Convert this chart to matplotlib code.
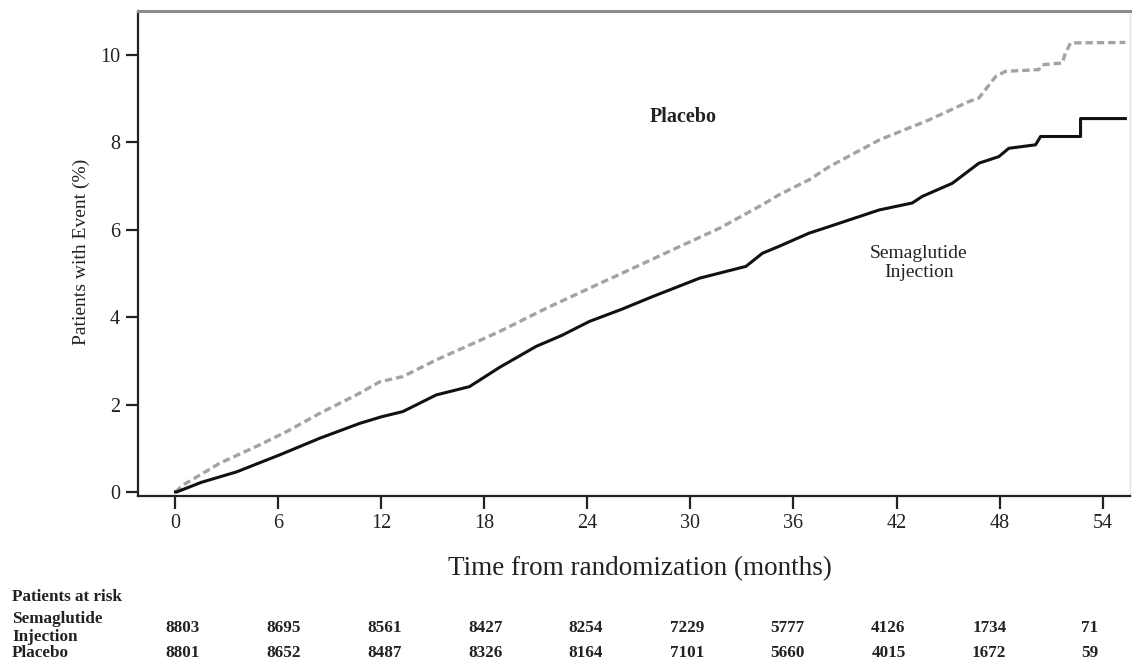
import numpy as np
import matplotlib
matplotlib.use("Agg")
import matplotlib.pyplot as plt

plt.rcParams['font.family'] = ['Liberation Serif', 'DejaVu Serif']

# Cumulative incidence (%) by month, Kaplan-Meier style
sema_months = [0.0, 0.07, 1.5, 3.56, 6.08, 8.41, 10.74, 12.0, 13.25, 15.19, 17.13,
               18.88, 21.01, 22.5, 24.11, 26.0, 27.8, 30.53, 33.23, 34.19, 35.17,
               36.91, 38.08, 40.99, 42.92, 43.5, 45.25, 46.8, 47.96, 48.54, 50.1,
               50.39, 52.72, 52.72, 55.33]
sema_pct = [0.0, 0.0, 0.22, 0.46, 0.85, 1.23, 1.57, 1.72, 1.84, 2.22, 2.41,
            2.85, 3.33, 3.58, 3.90, 4.18, 4.47, 4.89, 5.16, 5.46, 5.62,
            5.92, 6.07, 6.45, 6.61, 6.76, 7.06, 7.52, 7.67, 7.86, 7.94,
            8.13, 8.13, 8.54, 8.54]

placebo_months = [0.0, 0.45, 2.59, 4.92, 6.47, 8.41, 10.54, 11.9, 13.25, 15.19,
                  17.13, 18.88, 21.59, 24.11, 26.44, 29.35, 31.68, 34.19, 35.17,
                  36.91, 38.08, 40.99, 43.9, 46.22, 46.8, 47.77, 48.35, 50.29,
                  50.48, 51.65, 51.84, 52.14, 55.33]
placebo_pct = [0.0, 0.16, 0.66, 1.08, 1.38, 1.80, 2.22, 2.52, 2.64, 3.02,
               3.36, 3.67, 4.20, 4.66, 5.08, 5.61, 6.03, 6.57, 6.80,
               7.14, 7.44, 8.05, 8.51, 8.93, 9.01, 9.50, 9.62, 9.66,
               9.77, 9.81, 10.04, 10.27, 10.28]

x_ticks = [0, 6, 12, 18, 24, 30, 36, 42, 48, 54]
y_ticks = [0, 2, 4, 6, 8, 10]

risk_rows = ["Semaglutide\nInjection", "Placebo"]
risk_sema = [8803, 8695, 8561, 8427, 8254, 7229, 5777, 4126, 1734, 71]
risk_placebo = [8801, 8652, 8487, 8326, 8164, 7101, 5660, 4015, 1672, 59]

W, H = 1138, 666
INK = '#222222'
fig = plt.figure(figsize=(W / 100, H / 100), dpi=100)
ax = fig.add_axes([138 / W, 1 - 495.5 / H, (1130 - 138) / W, (495.5 - 11) / H])

ax.plot(placebo_months, placebo_pct, color='#a3a3a3', lw=2.4,
        linestyle=(0, (2.2, 1.2)), solid_capstyle='butt')
ax.plot(sema_months, sema_pct, color='#111111', lw=2.2)

ax.set_xlim(-2.18, 55.6)
ax.set_ylim(-0.08, 11.0)
ax.set_xticks(x_ticks)
ax.set_yticks(y_ticks)
ax.tick_params(axis='both', direction='out', length=9, width=1.6,
               labelsize=14.5, colors=INK, pad=4)

for side in ('left', 'bottom'):
    ax.spines[side].set_color(INK)
    ax.spines[side].set_linewidth(1.6)
ax.spines['top'].set_color('#8c8c8c')
ax.spines['top'].set_linewidth(2.2)
ax.spines['right'].set_color('#e4e4e4')
ax.spines['right'].set_linewidth(1.0)

ax.set_ylabel("Patients with Event (%)", fontsize=14, color=INK)
ax.yaxis.set_label_coords((90 - 138) / 992, (495.5 - 252) / 484.5)

ax.text(29.6, 8.58, "Placebo", fontsize=14.5, fontweight='bold',
        ha='center', va='center', color=INK)
ax.text(43.3, 5.24, "Semaglutide\nInjection", fontsize=14,
        ha='center', va='center', color=INK, linespacing=1.15)

fig.text(640 / W, 1 - 569 / H, "Time from randomization (months)",
         fontsize=19.5, ha='center', va='center', color=INK)

# Number-at-risk table below the axis
fig.text(12 / W, 1 - 597 / H, "Patients at risk", fontsize=12.3,
         fontweight='bold', ha='left', va='center', color=INK)
fig.text(12 / W, 1 - 628 / H, risk_rows[0], fontsize=12.3, fontweight='bold',
         ha='left', va='center', color=INK, linespacing=1.1)
fig.text(12 / W, 1 - 653 / H, risk_rows[1], fontsize=12.3, fontweight='bold',
         ha='left', va='center', color=INK)

col_x = np.linspace(183, 1090, len(risk_sema)) / W
for cx, a, b in zip(col_x, risk_sema, risk_placebo):
    fig.text(cx, 1 - 628 / H, str(a), fontsize=12.3, fontweight='bold',
             ha='center', va='center', color=INK)
    fig.text(cx, 1 - 653 / H, str(b), fontsize=12.3, fontweight='bold',
             ha='center', va='center', color=INK)

fig.savefig("out.png", dpi=100, facecolor='white')
